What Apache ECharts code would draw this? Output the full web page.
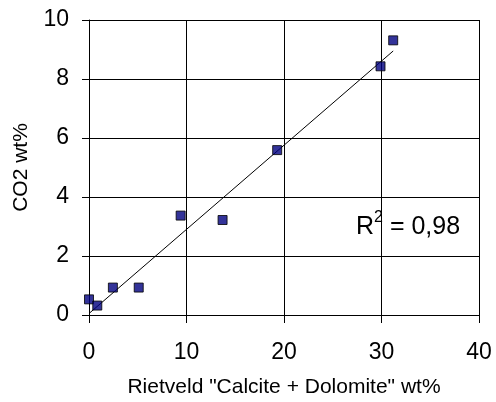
<!DOCTYPE html>
<html>
<head>
<meta charset="utf-8">
<script src="https://cdn.jsdelivr.net/npm/echarts@6/dist/echarts.min.js"></script>
<style>
  html, body { margin: 0; padding: 0; background: #fff; }
  #chart { width: 496px; height: 402px; }
</style>
</head>
<body>
<div id="chart"></div>
<script>
// rietveld calcite + dolomite (x) vs measured CO2 (y)
const rietveld = [0, 0.85, 2.45, 5.1, 9.4, 13.7, 19.3, 29.9, 31.2]
const co2 = [0.53, 0.32, 0.93, 0.93, 3.37, 3.22, 5.59, 8.43, 9.31]
// linear trendline end points
const trendX = [0, 31.2]
const trendY = [0.05, 8.95]
const r2Text = '0,98'

const font = 'Arial, "Liberation Sans", sans-serif'

const chart = echarts.init(document.getElementById('chart'), null, { renderer: 'canvas' })

chart.setOption({
  animation: false,
  backgroundColor: '#fff',
  grid: { left: 89, right: 17, top: 20, bottom: 87, containLabel: false, outerBoundsMode: 'none' },
  xAxis: {
    type: 'value',
    min: 0,
    max: 40,
    interval: 10,
    name: 'Rietveld "Calcite + Dolomite" wt%',
    nameLocation: 'middle',
    nameGap: 62,
    nameTextStyle: { fontFamily: font, fontSize: 21, color: '#000' },
    axisLine: { show: true, lineStyle: { color: '#000', width: 1 } },
    axisTick: { show: true, length: 8, lineStyle: { color: '#000' } },
    axisLabel: { fontFamily: font, fontSize: 23, color: '#000', margin: 26 },
    splitLine: { show: true, lineStyle: { color: '#000', width: 1 } }
  },
  yAxis: {
    type: 'value',
    min: 0,
    max: 10,
    interval: 2,
    name: 'CO2 wt%',
    nameLocation: 'middle',
    nameGap: 57,
    nameTextStyle: { fontFamily: font, fontSize: 21, color: '#000' },
    axisLine: { show: true, lineStyle: { color: '#000', width: 1 } },
    axisTick: { show: true, length: 7, lineStyle: { color: '#000' } },
    axisLabel: { fontFamily: font, fontSize: 23, color: '#000', margin: 20 },
    splitLine: { show: true, lineStyle: { color: '#000', width: 1 } }
  },
  series: [
    {
      name: 'trend',
      type: 'line',
      data: trendX.map((x, i) => [x, trendY[i]]),
      symbol: 'none',
      lineStyle: { color: '#000', width: 1 },
      z: 3
    },
    {
      name: 'CO2',
      type: 'scatter',
      data: rietveld.map((x, i) => [x, co2[i]]),
      symbol: 'rect',
      symbolSize: 9,
      itemStyle: { color: '#000080', borderColor: '#000', borderWidth: 1 },
      z: 4
    }
  ],
  graphic: [
    {
      type: 'text',
      left: 356,
      top: 210,
      style: {
        text: '{a|R}{s|2}{a| = ' + r2Text + '}',
        rich: {
          a: { fontFamily: font, fontSize: 25, color: '#000', lineHeight: 30, verticalAlign: 'bottom' },
          s: { fontFamily: font, fontSize: 16, color: '#000', lineHeight: 30, verticalAlign: 'top' }
        }
      }
    }
  ]
})
</script>
</body>
</html>
